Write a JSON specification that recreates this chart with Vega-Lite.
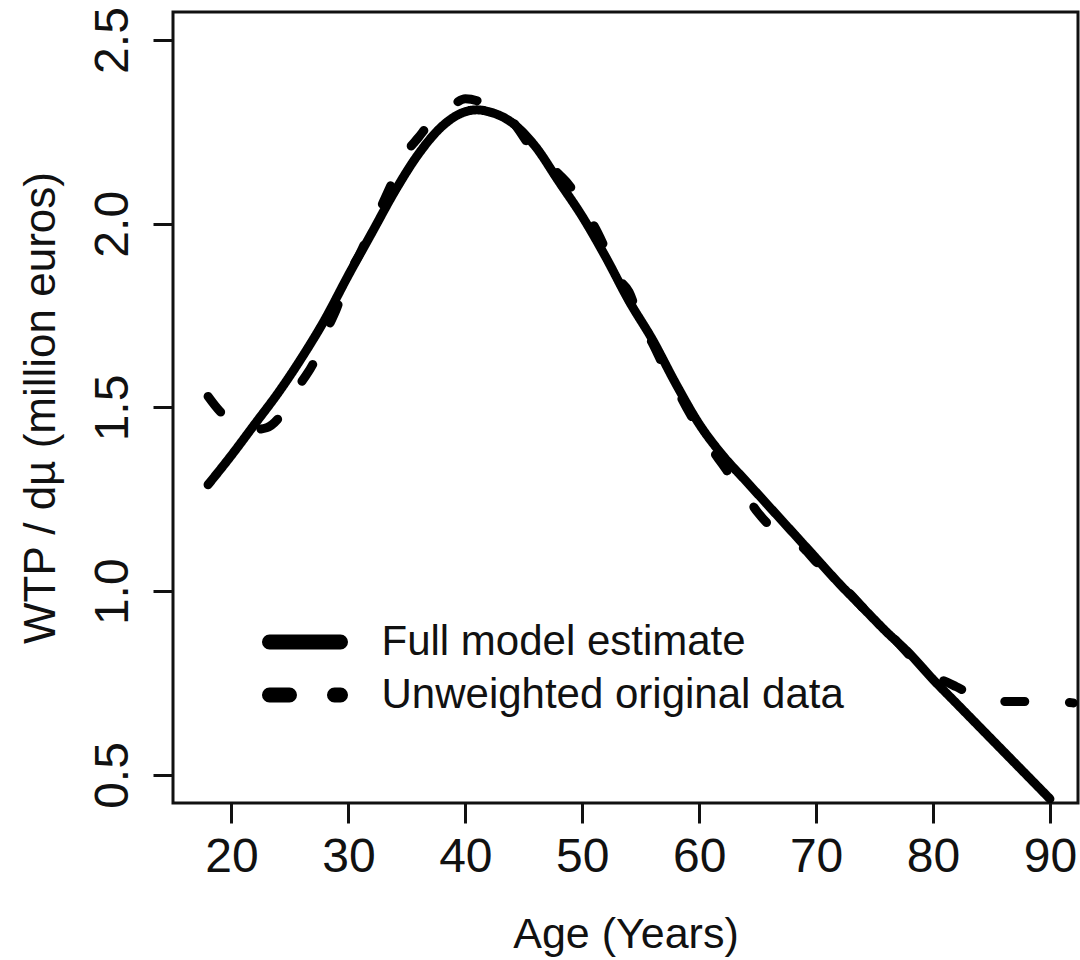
{
  "$schema": "https://vega.github.io/schema/vega-lite/v6.json",
  "width": 905,
  "height": 791,
  "autosize": {"type": "none"},
  "padding": {"left": 173, "top": 12, "right": 2, "bottom": 157},
  "background": "white",
  "config": {
    "font": "Liberation Sans",
    "view": {"stroke": "#111111", "strokeWidth": 3},
    "axis": {"grid": false, "domain": false, "tickColor": "#111111", "tickWidth": 3, "tickSize": 20, "labelColor": "#111111", "titleColor": "#111111", "labelFont": "Liberation Sans", "titleFont": "Liberation Sans", "titleFontWeight": "normal"}
  },
  "data": {
    "values": [
      {"age": 18, "value": 1.29, "series": "Full model estimate"},
      {"age": 20, "value": 1.37, "series": "Full model estimate"},
      {"age": 22, "value": 1.455, "series": "Full model estimate"},
      {"age": 24, "value": 1.54, "series": "Full model estimate"},
      {"age": 26, "value": 1.635, "series": "Full model estimate"},
      {"age": 28, "value": 1.74, "series": "Full model estimate"},
      {"age": 30, "value": 1.86, "series": "Full model estimate"},
      {"age": 32, "value": 1.975, "series": "Full model estimate"},
      {"age": 34, "value": 2.09, "series": "Full model estimate"},
      {"age": 36, "value": 2.19, "series": "Full model estimate"},
      {"age": 38, "value": 2.265, "series": "Full model estimate"},
      {"age": 40, "value": 2.305, "series": "Full model estimate"},
      {"age": 41, "value": 2.31, "series": "Full model estimate"},
      {"age": 42, "value": 2.305, "series": "Full model estimate"},
      {"age": 44, "value": 2.275, "series": "Full model estimate"},
      {"age": 46, "value": 2.21, "series": "Full model estimate"},
      {"age": 48, "value": 2.115, "series": "Full model estimate"},
      {"age": 50, "value": 2.02, "series": "Full model estimate"},
      {"age": 52, "value": 1.91, "series": "Full model estimate"},
      {"age": 54, "value": 1.79, "series": "Full model estimate"},
      {"age": 56, "value": 1.685, "series": "Full model estimate"},
      {"age": 58, "value": 1.565, "series": "Full model estimate"},
      {"age": 60, "value": 1.455, "series": "Full model estimate"},
      {"age": 62, "value": 1.37, "series": "Full model estimate"},
      {"age": 64, "value": 1.3, "series": "Full model estimate"},
      {"age": 66, "value": 1.23, "series": "Full model estimate"},
      {"age": 68, "value": 1.16, "series": "Full model estimate"},
      {"age": 70, "value": 1.09, "series": "Full model estimate"},
      {"age": 72, "value": 1.02, "series": "Full model estimate"},
      {"age": 74, "value": 0.955, "series": "Full model estimate"},
      {"age": 76, "value": 0.89, "series": "Full model estimate"},
      {"age": 78, "value": 0.83, "series": "Full model estimate"},
      {"age": 80, "value": 0.76, "series": "Full model estimate"},
      {"age": 82, "value": 0.695, "series": "Full model estimate"},
      {"age": 84, "value": 0.63, "series": "Full model estimate"},
      {"age": 86, "value": 0.565, "series": "Full model estimate"},
      {"age": 88, "value": 0.5, "series": "Full model estimate"},
      {"age": 90, "value": 0.435, "series": "Full model estimate"},
      {"age": 18, "value": 1.53, "series": "Unweighted original data"},
      {"age": 19, "value": 1.49, "series": "Unweighted original data"},
      {"age": 20, "value": 1.465, "series": "Unweighted original data"},
      {"age": 21, "value": 1.45, "series": "Unweighted original data"},
      {"age": 22, "value": 1.44, "series": "Unweighted original data"},
      {"age": 23, "value": 1.445, "series": "Unweighted original data"},
      {"age": 24, "value": 1.47, "series": "Unweighted original data"},
      {"age": 25, "value": 1.52, "series": "Unweighted original data"},
      {"age": 26, "value": 1.57, "series": "Unweighted original data"},
      {"age": 27, "value": 1.62, "series": "Unweighted original data"},
      {"age": 28, "value": 1.7, "series": "Unweighted original data"},
      {"age": 29, "value": 1.77, "series": "Unweighted original data"},
      {"age": 30, "value": 1.86, "series": "Unweighted original data"},
      {"age": 31, "value": 1.92, "series": "Unweighted original data"},
      {"age": 32, "value": 1.99, "series": "Unweighted original data"},
      {"age": 33, "value": 2.06, "series": "Unweighted original data"},
      {"age": 34, "value": 2.13, "series": "Unweighted original data"},
      {"age": 35, "value": 2.195, "series": "Unweighted original data"},
      {"age": 36, "value": 2.235, "series": "Unweighted original data"},
      {"age": 37, "value": 2.275, "series": "Unweighted original data"},
      {"age": 38, "value": 2.305, "series": "Unweighted original data"},
      {"age": 39, "value": 2.325, "series": "Unweighted original data"},
      {"age": 40, "value": 2.34, "series": "Unweighted original data"},
      {"age": 41, "value": 2.335, "series": "Unweighted original data"},
      {"age": 42, "value": 2.32, "series": "Unweighted original data"},
      {"age": 43, "value": 2.305, "series": "Unweighted original data"},
      {"age": 44, "value": 2.28, "series": "Unweighted original data"},
      {"age": 45, "value": 2.235, "series": "Unweighted original data"},
      {"age": 46, "value": 2.19, "series": "Unweighted original data"},
      {"age": 47, "value": 2.165, "series": "Unweighted original data"},
      {"age": 48, "value": 2.135, "series": "Unweighted original data"},
      {"age": 49, "value": 2.1, "series": "Unweighted original data"},
      {"age": 50, "value": 2.04, "series": "Unweighted original data"},
      {"age": 51, "value": 1.995, "series": "Unweighted original data"},
      {"age": 52, "value": 1.93, "series": "Unweighted original data"},
      {"age": 53, "value": 1.855, "series": "Unweighted original data"},
      {"age": 54, "value": 1.815, "series": "Unweighted original data"},
      {"age": 55, "value": 1.73, "series": "Unweighted original data"},
      {"age": 56, "value": 1.675, "series": "Unweighted original data"},
      {"age": 57, "value": 1.61, "series": "Unweighted original data"},
      {"age": 58, "value": 1.555, "series": "Unweighted original data"},
      {"age": 59, "value": 1.495, "series": "Unweighted original data"},
      {"age": 60, "value": 1.44, "series": "Unweighted original data"},
      {"age": 61, "value": 1.39, "series": "Unweighted original data"},
      {"age": 62, "value": 1.345, "series": "Unweighted original data"},
      {"age": 63, "value": 1.3, "series": "Unweighted original data"},
      {"age": 64, "value": 1.26, "series": "Unweighted original data"},
      {"age": 65, "value": 1.215, "series": "Unweighted original data"},
      {"age": 66, "value": 1.18, "series": "Unweighted original data"},
      {"age": 67, "value": 1.16, "series": "Unweighted original data"},
      {"age": 68, "value": 1.14, "series": "Unweighted original data"},
      {"age": 69, "value": 1.115, "series": "Unweighted original data"},
      {"age": 70, "value": 1.08, "series": "Unweighted original data"},
      {"age": 71, "value": 1.05, "series": "Unweighted original data"},
      {"age": 72, "value": 1.02, "series": "Unweighted original data"},
      {"age": 73, "value": 0.99, "series": "Unweighted original data"},
      {"age": 74, "value": 0.955, "series": "Unweighted original data"},
      {"age": 75, "value": 0.925, "series": "Unweighted original data"},
      {"age": 76, "value": 0.895, "series": "Unweighted original data"},
      {"age": 77, "value": 0.86, "series": "Unweighted original data"},
      {"age": 78, "value": 0.825, "series": "Unweighted original data"},
      {"age": 79, "value": 0.785, "series": "Unweighted original data"},
      {"age": 80, "value": 0.765, "series": "Unweighted original data"},
      {"age": 81, "value": 0.755, "series": "Unweighted original data"},
      {"age": 82, "value": 0.74, "series": "Unweighted original data"},
      {"age": 83, "value": 0.725, "series": "Unweighted original data"},
      {"age": 84, "value": 0.718, "series": "Unweighted original data"},
      {"age": 85, "value": 0.708, "series": "Unweighted original data"},
      {"age": 86, "value": 0.7, "series": "Unweighted original data"},
      {"age": 87, "value": 0.7, "series": "Unweighted original data"},
      {"age": 88, "value": 0.7, "series": "Unweighted original data"},
      {"age": 89, "value": 0.705, "series": "Unweighted original data"},
      {"age": 90, "value": 0.705, "series": "Unweighted original data"},
      {"age": 91, "value": 0.7, "series": "Unweighted original data"},
      {"age": 92, "value": 0.696, "series": "Unweighted original data"}
    ]
  },
  "mark": {"type": "line", "color": "#000000", "strokeWidth": 9, "strokeCap": "round", "strokeJoin": "round", "interpolate": "monotone", "clip": true},
  "encoding": {
    "x": {
      "field": "age", "type": "quantitative",
      "scale": {"domain": [15.0, 92.4], "nice": false, "zero": false},
      "axis": {"title": "Age (Years)", "values": [20, 30, 40, 50, 60, 70, 80, 90], "labelFontSize": 48, "labelPadding": 10, "titleFontSize": 43, "titlePadding": 32, "labelFlush": false, "labelOverlap": false}
    },
    "y": {
      "field": "value", "type": "quantitative",
      "scale": {"domain": [0.4237, 2.5763], "nice": false, "zero": false},
      "axis": {"title": "WTP / dµ (million euros)", "values": [0.5, 1.0, 1.5, 2.0, 2.5], "format": ".1f", "labelAngle": -90, "labelAlign": "center", "labelBaseline": "bottom", "labelFontSize": 48, "labelPadding": 16, "titleFontSize": 44, "titlePadding": 26, "labelFlush": false, "labelOverlap": false}
    },
    "strokeDash": {
      "field": "series", "type": "nominal",
      "scale": {"domain": ["Full model estimate", "Unweighted original data"], "range": [[1, 0], [20, 45]]},
      "legend": {"title": null, "orient": "none", "legendX": 109.5, "legendY": 607.5, "padding": 0, "symbolType": "M-2.367,0L2.367,0", "symbolSize": 900, "symbolStrokeWidth": 15, "symbolStrokeColor": "#000000", "symbolFillColor": "transparent", "labelFontSize": 42, "labelColor": "#111111", "labelOffset": 54, "rowPadding": -13, "labelLimit": 700,
        "encode": {"symbols": {"update": {"strokeCap": {"value": "round"}}}}}
    }
  }
}
